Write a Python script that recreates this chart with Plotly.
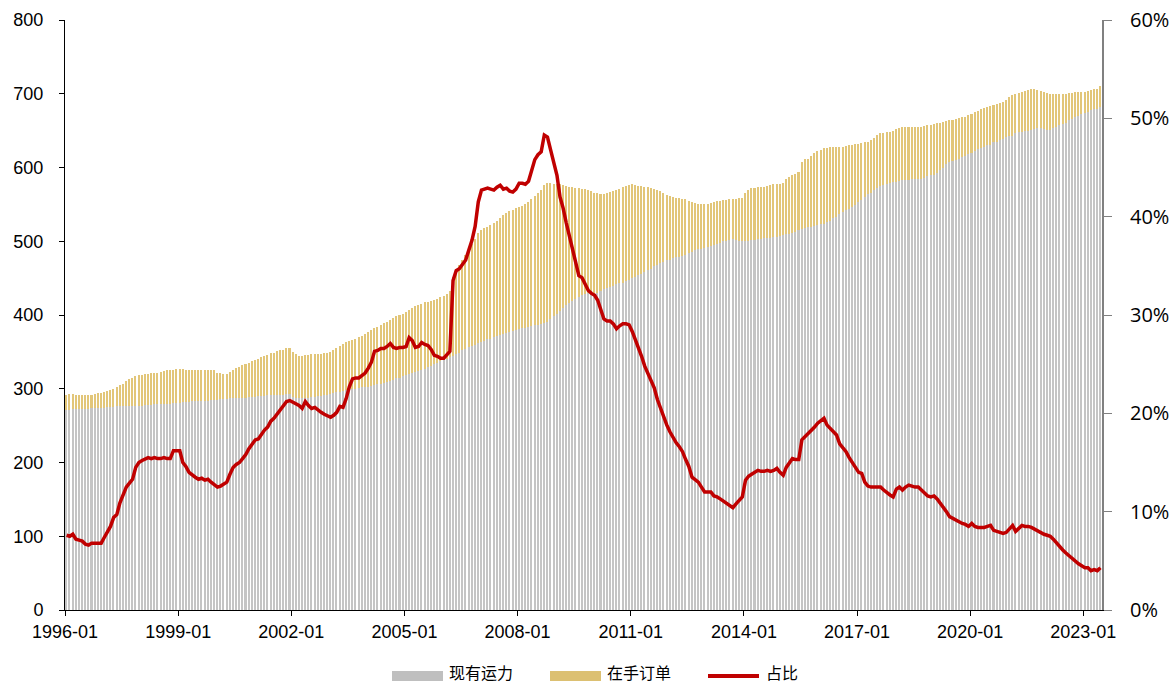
import pandas as pd
import plotly.graph_objects as go

# 现有运力 (grey bars), monthly 1996-01 .. 2023-06
fleet = [
    271, 271, 272, 272, 272, 273, 273, 273, 274, 274, 274, 274,  # 1996
    274, 275, 275, 275, 276, 276, 276, 276, 277, 277, 277, 277,  # 1997
    277, 278, 278, 278, 279, 279, 279, 280, 280, 280, 281, 281,  # 1998
    281, 282, 282, 282, 283, 283, 283, 284, 284, 284, 285, 285,  # 1999
    285, 286, 286, 286, 287, 287, 287, 288, 288, 288, 289, 289,  # 2000
    289, 290, 290, 290, 291, 291, 291, 292, 292, 292, 293, 293,  # 2001
    289, 287, 287, 288, 288, 288, 289, 289, 290, 290, 291, 292,  # 2002
    293, 294, 295, 296, 297, 298, 299, 299, 300, 301, 302, 302,  # 2003
    303, 304, 305, 306, 307, 308, 309, 310, 312, 314, 315, 317,  # 2004
    319, 320, 321, 323, 324, 326, 327, 329, 331, 333, 335, 337,  # 2005
    339, 341, 343, 345, 347, 349, 352, 354, 356, 358, 360, 362,  # 2006
    363, 365, 367, 368, 370, 371, 373, 374, 376, 377, 378, 380,  # 2007
    381, 382, 383, 384, 385, 386, 386, 388, 389, 391, 394, 398,  # 2008
    401, 406, 410, 413, 416, 419, 422, 425, 427, 429, 430, 430,  # 2009
    429, 430, 432, 435, 437, 438, 440, 442, 443, 444, 446, 447,  # 2010
    450, 452, 454, 456, 458, 461, 463, 466, 468, 470, 472, 474,  # 2011
    475, 477, 478, 479, 480, 482, 484, 486, 488, 489, 490, 491,  # 2012
    492, 493, 495, 496, 498, 500, 501, 502, 503, 502, 501, 500,  # 2013
    500, 501, 502, 502, 503, 503, 504, 504, 505, 506, 506, 507,  # 2014
    509, 510, 510, 511, 512, 515, 517, 518, 519, 520, 521, 522,  # 2015
    523, 524, 526, 528, 531, 533, 537, 539, 542, 544, 546, 549,  # 2016
    553, 556, 560, 564, 566, 569, 572, 575, 576, 578, 579, 581,  # 2017
    581, 582, 583, 583, 583, 584, 584, 584, 585, 586, 588, 590,  # 2018
    590, 593, 596, 600, 605, 607, 609, 610, 612, 614, 616, 618,  # 2019
    619, 622, 625, 627, 628, 630, 631, 634, 635, 637, 639, 641,  # 2020
    643, 643, 647, 648, 648, 649, 650, 651, 652, 653, 653, 652,  # 2021
    651, 651, 653, 655, 658, 659, 661, 664, 666, 669, 670, 672,  # 2022
    674, 675, 678, 679, 680, 682,                                # 2023
]

# 在手订单 (gold bars, stacked on top)
orders = [
    21, 22, 21, 20, 19, 18, 18, 19, 18, 19, 20, 20,  # 1996
    21, 22, 23, 25, 26, 29, 31, 34, 36, 38, 40, 41,  # 1997
    42, 42, 42, 43, 42, 43, 44, 44, 45, 46, 45, 46,  # 1998
    46, 45, 44, 43, 42, 42, 42, 41, 41, 41, 41, 40,  # 1999
    36, 35, 34, 34, 36, 38, 41, 42, 44, 45, 46, 48,  # 2000
    50, 51, 53, 54, 55, 57, 58, 59, 60, 61, 62, 62,  # 2001
    61, 60, 58, 57, 58, 58, 58, 58, 57, 57, 57, 56,  # 2002
    57, 58, 60, 62, 64, 65, 66, 67, 68, 69, 70, 72,  # 2003
    74, 76, 77, 78, 79, 81, 82, 83, 84, 84, 85, 85,  # 2004
    85, 87, 89, 89, 89, 89, 90, 89, 88, 87, 87, 87,  # 2005
    87, 87, 89, 107, 115, 119, 123, 128, 133, 138, 143, 149,  # 2006
    152, 153, 153, 154, 155, 157, 158, 161, 162, 164, 165, 165,  # 2007
    165, 166, 167, 169, 172, 175, 179, 182, 187, 188, 185, 180,  # 2008
    177, 171, 166, 162, 158, 154, 150, 147, 144, 142, 140, 138,  # 2009
    137, 135, 132, 129, 129, 129, 128, 127, 128, 129, 129, 129,  # 2010
    127, 124, 121, 119, 116, 112, 109, 105, 102, 98, 94, 89,  # 2011
    86, 83, 81, 79, 77, 75, 71, 67, 64, 62, 61, 60,  # 2012
    59, 59, 58, 58, 57, 56, 55, 55, 54, 55, 57, 58,  # 2013
    66, 69, 70, 70, 70, 71, 70, 71, 71, 71, 72, 71,  # 2014
    70, 74, 77, 79, 79, 79, 90, 93, 93, 95, 98, 100,  # 2015
    101, 102, 101, 100, 97, 95, 91, 89, 87, 86, 85, 83,  # 2016
    79, 77, 74, 71, 71, 71, 72, 72, 71, 70, 69, 69,  # 2017
    71, 72, 72, 72, 72, 71, 71, 71, 70, 70, 69, 68,  # 2018
    69, 67, 65, 62, 58, 57, 56, 56, 55, 54, 53, 53,  # 2019
    54, 53, 52, 52, 53, 52, 53, 51, 51, 50, 50, 51,  # 2020
    53, 55, 52, 53, 55, 55, 55, 55, 54, 52, 51, 50,  # 2021
    50, 49, 47, 45, 42, 40, 39, 37, 35, 33, 32, 30,  # 2022
    29, 29, 27, 27, 27, 29,                          # 2023
]

# 占比 (%), right axis
ratio = [
    7.6, 7.5, 7.7, 7.2, 7.1, 7.0, 6.7, 6.6, 6.8, 6.8, 6.8, 6.8,  # 1996
    7.4, 8.0, 8.5, 9.4, 9.7, 10.9, 11.8, 12.5, 12.9, 13.3, 14.5, 15.0,  # 1997
    15.2, 15.4, 15.5, 15.4, 15.5, 15.4, 15.4, 15.5, 15.4, 15.4, 16.2, 16.2,  # 1998
    16.2, 15.0, 14.6, 14.0, 13.7, 13.5, 13.3, 13.4, 13.2, 13.3, 13.0, 12.8,  # 1999
    12.5, 12.6, 12.8, 13.0, 13.8, 14.5, 14.8, 15.0, 15.4, 15.8, 16.4, 16.8,  # 2000
    17.3, 17.4, 17.9, 18.3, 18.6, 19.2, 19.5, 19.9, 20.3, 20.7, 21.2, 21.3,  # 2001
    21.1, 21.0, 20.8, 20.5, 21.2, 20.8, 20.5, 20.6, 20.3, 20.1, 19.9, 19.7,  # 2002
    19.6, 19.8, 20.1, 20.7, 20.6, 21.5, 22.7, 23.5, 23.6, 23.6, 23.9, 24.1,  # 2003
    24.6, 25.2, 26.3, 26.4, 26.6, 26.6, 26.8, 27.1, 26.7, 26.6, 26.7, 26.7,  # 2004
    26.8, 27.7, 27.4, 26.7, 26.8, 27.2, 27.0, 26.9, 26.5, 25.9, 25.8, 25.6,  # 2005
    25.6, 25.9, 26.3, 33.5, 34.5, 34.7, 35.1, 35.6, 36.6, 37.6, 39.0, 41.5,  # 2006
    42.7, 42.8, 42.9, 42.8, 42.7, 43.0, 43.2, 42.8, 42.9, 42.6, 42.5, 42.8,  # 2007
    43.4, 43.4, 43.3, 43.6, 44.7, 45.8, 46.3, 46.6, 48.3, 48.1, 46.8, 45.3,  # 2008
    44.2, 42.0, 40.9, 39.4, 38.1, 36.8, 35.3, 34.0, 33.8, 33.2, 32.5, 32.2,  # 2009
    32.0, 31.5, 30.6, 29.6, 29.4, 29.4, 29.1, 28.6, 28.9, 29.1, 29.1, 29.0,  # 2010
    28.3, 27.5, 26.8, 25.8, 24.8, 24.1, 23.3, 22.6, 21.4, 20.5, 19.7, 18.8,  # 2011
    18.1, 17.5, 17.0, 16.6, 16.1, 15.3, 14.6, 13.5, 13.3, 13.0, 12.5, 12.0,  # 2012
    12.0, 12.0, 11.6, 11.5, 11.3, 11.1, 10.9, 10.7, 10.4, 10.8, 11.1, 11.5,  # 2013
    13.2, 13.6, 13.8, 14.0, 14.2, 14.1, 14.1, 14.2, 14.1, 14.2, 14.4, 14.0,  # 2014
    13.7, 14.5, 15.0, 15.4, 15.3, 15.3, 17.3, 17.6, 17.9, 18.2, 18.6, 19.0,  # 2015
    19.3, 19.5, 18.8, 18.5, 18.1, 17.8, 16.9, 16.5, 16.1, 15.5, 15.0, 14.5,  # 2016
    14.0, 13.9, 13.0, 12.6, 12.5, 12.5, 12.5, 12.5, 12.2, 11.9, 11.7, 11.5,  # 2017
    12.3, 12.5, 12.2, 12.5, 12.7, 12.6, 12.5, 12.5, 12.2, 11.9, 11.6, 11.5,  # 2018
    11.6, 11.3, 10.9, 10.4, 10.0, 9.5, 9.3, 9.2, 9.0, 8.8, 8.7, 8.5,  # 2019
    8.8, 8.5, 8.4, 8.4, 8.4, 8.5, 8.6, 8.1, 8.0, 7.9, 7.8, 7.9,  # 2020
    8.3, 8.6, 8.0, 8.3, 8.6, 8.5, 8.5, 8.4, 8.2, 8.0, 7.8, 7.7,  # 2021
    7.6, 7.5, 7.2, 6.8, 6.4, 6.1, 5.8, 5.5, 5.2, 4.9, 4.7, 4.5,  # 2022
    4.3, 4.3, 4.0, 4.1, 4.0, 4.3,  # 2023
]

tick_labels = ["1996-01", "1999-01", "2002-01", "2005-01", "2008-01",
               "2011-01", "2014-01", "2017-01", "2020-01", "2023-01"]

months = pd.date_range("1996-01-01", periods=len(fleet), freq="MS")
tick_dates = [t + "-01" for t in tick_labels]

GREY = "#C4C4C4"
GOLD = "#E2C679"
RED = "#C00000"

fig = go.Figure()
fig.add_bar(x=months, y=fleet, name="现有运力", marker_color=GREY,
            marker_line_width=0, xperiod="M1", xperiodalignment="middle",
            showlegend=False)
fig.add_bar(x=months, y=orders, name="在手订单", marker_color=GOLD,
            marker_line_width=0, xperiod="M1", xperiodalignment="middle",
            showlegend=False)
fig.add_scatter(x=months, y=ratio, name="占比", yaxis="y2", mode="lines",
                line=dict(color=RED, width=3.5), xperiod="M1",
                xperiodalignment="middle", showlegend=False)

L, R, T, B = 65, 1102, 20, 610
W, H = 1176, 686


def px(x):
    return (x - L) / (R - L)


def py(y):
    return (B - y) / (B - T)


LEG_Y = 676
TXT_Y = 672
shapes = [
    dict(type="rect", xref="paper", yref="paper", x0=px(392), x1=px(443),
         y0=py(LEG_Y + 5), y1=py(LEG_Y - 5), fillcolor="#BFBFBF", line_width=0),
    dict(type="rect", xref="paper", yref="paper", x0=px(550), x1=px(601),
         y0=py(LEG_Y + 5), y1=py(LEG_Y - 5), fillcolor="#DCC072", line_width=0),
    dict(type="line", xref="paper", yref="paper", x0=px(708), x1=px(759),
         y0=py(LEG_Y), y1=py(LEG_Y), line=dict(color=RED, width=4)),
]
legend_font = dict(family="Noto Sans CJK SC", size=16, color="#000000")
annotations = [
    dict(text="现有运力", x=px(448), y=py(TXT_Y), xref="paper", yref="paper",
         xanchor="left", yanchor="middle", showarrow=False, font=legend_font,
         borderpad=0),
    dict(text="在手订单", x=px(606), y=py(TXT_Y), xref="paper", yref="paper",
         xanchor="left", yanchor="middle", showarrow=False, font=legend_font,
         borderpad=0),
    dict(text="占比", x=px(765), y=py(TXT_Y), xref="paper", yref="paper",
         xanchor="left", yanchor="middle", showarrow=False, font=legend_font,
         borderpad=0),
]

fig.update_layout(
    width=W, height=H,
    margin=dict(l=L, r=W - R, t=T, b=H - B, pad=0, autoexpand=False),
    barmode="stack", bargap=0.5,
    plot_bgcolor="white", paper_bgcolor="white",
    shapes=shapes, annotations=annotations,
    xaxis=dict(type="date", range=["1996-01-01", "2023-07-01"],
               tickvals=tick_dates, ticktext=tick_labels, automargin=False,
               ticks="outside", ticklen=5, tickcolor="#000000",
               showline=True, linecolor="#000000", linewidth=1,
               showgrid=False, zeroline=False,
               tickfont=dict(family="Liberation Sans", size=18, color="#000000")),
    yaxis=dict(range=[0, 800], dtick=100, ticks="outside", ticklen=5,
               tickcolor="#000000", showline=True, linecolor="#000000",
               linewidth=1, showgrid=False, zeroline=False, automargin=False,
               ticklabelstandoff=12,
               tickfont=dict(family="Liberation Sans", size=18, color="#000000")),
    yaxis2=dict(overlaying="y", side="right", range=[0, 60], dtick=10,
                ticksuffix="%", ticks="outside", ticklen=8, automargin=False,
                tickcolor="#808080", showline=True, linecolor="#808080",
                linewidth=2, showgrid=False, zeroline=False,
                ticklabelstandoff=14,
                tickfont=dict(family="Open Sans", size=20, color="#000000")),
)

fig.write_html(
    "out.html",
    config={"displayModeBar": False},
    post_script="document.body.style.margin='0px';document.body.style.overflow='hidden';",
)
